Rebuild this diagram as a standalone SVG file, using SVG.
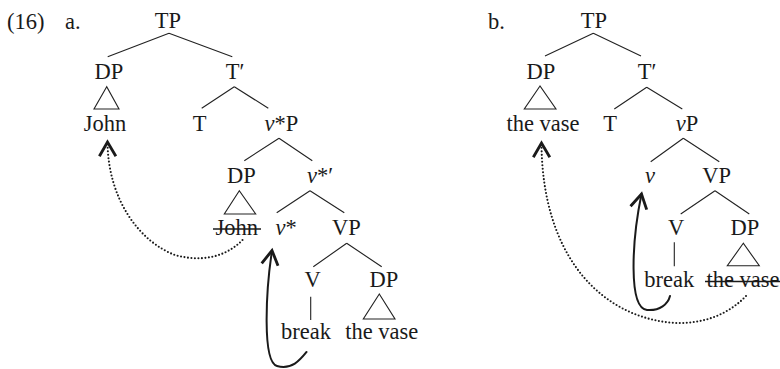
<svg xmlns="http://www.w3.org/2000/svg" width="780" height="369" viewBox="0 0 780 369" font-family="'Liberation Serif', 'DejaVu Serif', serif">
  <style>
    text { font-family: 'Liberation Serif', 'DejaVu Serif', serif; font-size: 22.5px; fill: #1a1a1a; text-anchor: middle; }
    text.lbl { text-anchor: start; }
    .it { font-style: italic; }
    .edge { stroke: #222; stroke-width: 1.1; fill: none; }
    .tri { stroke: #222; stroke-width: 1.1; fill: none; stroke-linejoin: miter; }
    .strike { stroke: #1a1a1a; stroke-width: 1.6; }
    .move { stroke: #1a1a1a; stroke-width: 2; fill: none; stroke-linecap: round; }
    .dots { stroke: #1a1a1a; stroke-width: 2.1; fill: none; stroke-linecap: round; stroke-dasharray: 0 3.5; }
  </style>
  <defs>
    <marker id="chev" markerUnits="userSpaceOnUse" orient="auto" markerWidth="24" markerHeight="24" refX="0" refY="0" viewBox="-12 -8 16 16" overflow="visible">
      <path d="M-9.5,-5.5 L0,0 L-9.5,5.5" fill="none" stroke="#1a1a1a" stroke-width="1.9" stroke-dasharray="none" stroke-linejoin="miter"/>
    </marker>
  </defs>

  <!-- example labels -->
  <text class="lbl" x="7" y="29">(16)</text>
  <text class="lbl" x="65" y="29">a.</text>
  <text class="lbl" x="488" y="29">b.</text>

  <!-- tree (a) nodes -->
  <g id="a-TP"><text x="168" y="28">TP</text></g>
  <g id="a-DP"><text x="109" y="79">DP</text><polygon class="tri" points="106.7,86.7 94,109 119,109"/></g>
  <g id="a-John"><text x="105" y="131">John</text></g>
  <g id="a-Tbar"><text x="235" y="79">T′</text></g>
  <g id="a-T"><text x="199.5" y="131">T</text></g>
  <g id="a-vstarP"><text x="281.5" y="131"><tspan class="it">v</tspan>*P</text></g>
  <g id="a-DP2"><text x="241.5" y="183">DP</text><polygon class="tri" points="239.3,190.7 224.3,214 255.7,214"/></g>
  <g id="a-John-copy"><text x="236.7" y="235">John</text><line class="strike" x1="213" y1="229" x2="261" y2="229"/></g>
  <g id="a-vstarbar"><text x="320" y="183"><tspan class="it">v</tspan>*′</text></g>
  <g id="a-vstar"><text x="286" y="235"><tspan class="it">v</tspan>*</text></g>
  <g id="a-VP"><text x="346.3" y="235">VP</text></g>
  <g id="a-V"><text x="312.7" y="287">V</text></g>
  <g id="a-break"><text x="306" y="339">break</text></g>
  <g id="a-DP3"><text x="384" y="287">DP</text><polygon class="tri" points="379.3,294 363.3,319 395,319"/></g>
  <g id="a-thevase"><text x="381.7" y="339">the vase</text></g>

  <!-- tree (b) nodes -->
  <g id="b-TP"><text x="594" y="28">TP</text></g>
  <g id="b-DP"><text x="541" y="79">DP</text><polygon class="tri" points="540,86 524.3,109 556,109"/></g>
  <g id="b-thevase"><text x="543" y="131">the vase</text></g>
  <g id="b-Tbar"><text x="647" y="79">T′</text></g>
  <g id="b-T"><text x="610" y="131">T</text></g>
  <g id="b-vP"><text x="687" y="131"><tspan class="it">v</tspan>P</text></g>
  <g id="b-v"><text x="650" y="183" class="it">v</text></g>
  <g id="b-VP"><text x="716.7" y="183">VP</text></g>
  <g id="b-V"><text x="676" y="235">V</text></g>
  <g id="b-break"><text x="669.3" y="287">break</text></g>
  <g id="b-DP2"><text x="745" y="235">DP</text><polygon class="tri" points="743.3,243.3 727.3,265.7 759.3,265.7"/></g>
  <g id="b-thevase-copy"><text x="743" y="287">the vase</text><line class="strike" x1="705" y1="281.5" x2="780" y2="281.5"/></g>

  <!-- connectors -->
  <g id="connectors">
    <!-- tree (a) branches -->
    <path class="edge" d="M169,33.3 L107.7,56.7 M169,33.3 L232.3,56.7"/>
    <path class="edge" d="M234.3,86.7 L201.7,108.3 M234.3,86.7 L268.3,108.3"/>
    <path class="edge" d="M279,138.3 L244.3,160.7 M279,138.3 L312.3,160.7"/>
    <path class="edge" d="M310,190.7 L276.7,212.7 M310,190.7 L344.3,212.7"/>
    <path class="edge" d="M346.7,243.3 L313.3,266.7 M346.7,243.3 L381.7,266.7"/>
    <path class="edge" d="M310.7,296.7 L310.7,320"/>
    <!-- tree (b) branches -->
    <path class="edge" d="M593.3,33.3 L545,56 M593.3,33.3 L641,56"/>
    <path class="edge" d="M646.7,87.3 L614.3,109 M646.7,87.3 L682.3,109"/>
    <path class="edge" d="M683.3,138.3 L650.7,161.7 M683.3,138.3 L719.3,161.7"/>
    <path class="edge" d="M715,190.7 L680.7,214 M715,190.7 L749.3,214"/>
    <path class="edge" d="M674.3,242.3 L674.3,266.3"/>
    <!-- head movement (solid) -->
    <path class="move" d="M306.5,352 C300,360 292,370 277,366 C262,362 266,290 272,250.5" marker-end="url(#chev)"/>
    <path class="move" d="M670,296 C668,304 660,311 647,310 C628,308 632,240 641.5,194" marker-end="url(#chev)"/>
    <!-- phrasal movement (dotted) -->
    <path class="dots" d="M242.5,240 C225,258 200,262 175,255 C140,242 108,200 107.5,142" marker-end="url(#chev)"/>
    <path class="dots" d="M746,296 C725,318 695,326 665,322 C595,312 542,250 541.5,143" marker-end="url(#chev)"/>
  </g>
</svg>
